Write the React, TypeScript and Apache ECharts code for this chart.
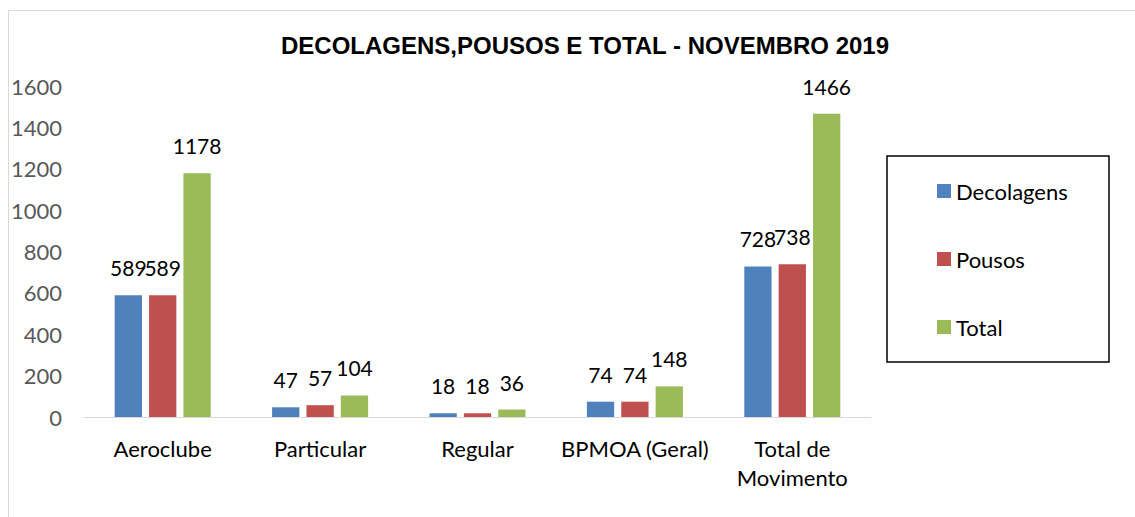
import React, { useEffect, useRef } from "react";
import * as echarts from "echarts";

const categories = ["Aeroclube", "Particular", "Regular", "BPMOA (Geral)", "Total de Movimento"];
const decolagens = [589, 47, 18, 74, 728];
const pousos = [589, 57, 18, 74, 738];
const total = [1178, 104, 36, 148, 1466];
const seriesNames = ["Decolagens", "Pousos", "Total"];
const colors = ["#4F81BD", "#C0504D", "#9BBB59"];
const titleText = "DECOLAGENS,POUSOS E TOTAL - NOVEMBRO 2019";

export default function App() {
  const ref = useRef<HTMLDivElement>(null);
  useEffect(() => {
    if (!ref.current) return;
    const chart = echarts.init(ref.current, undefined, { renderer: "svg" });
    const font = "Lato";
    const label = {
      show: true,
      position: "top",
      distance: 17,
      color: "#000",
      fontFamily: font,
      fontSize: 21,
    };
    const data = [decolagens, pousos, total];
    chart.setOption({
      animation: false,
      backgroundColor: "#fff",
      title: {
        text: titleText,
        left: 580,
        top: 28,
        textAlign: "center",
        textStyle: { fontFamily: "Liberation Sans", fontWeight: "bold", fontSize: 24, color: "#000" },
      },
      graphic: [
        {
          type: "rect",
          shape: { x: 8.5, y: 10.5, width: 1300, height: 700 },
          style: { fill: "none", stroke: "#d9d9d9", lineWidth: 1 },
          silent: true,
          z: -1,
        },
        {
          type: "rect",
          shape: { x: 887, y: 156, width: 222, height: 206 },
          style: { fill: "none", stroke: "#000", lineWidth: 1.5 },
          silent: true,
        },
      ],
      legend: {
        orient: "vertical",
        left: 932,
        top: 175,
        itemWidth: 14,
        itemHeight: 14,
        itemGap: 46,
        icon: "rect",
        textStyle: { fontFamily: font, fontSize: 22, color: "#000" },
        data: seriesNames,
      },
      grid: { left: 84, right: 264, top: 86, bottom: 100 },
      xAxis: {
        type: "category",
        data: categories,
        axisLine: { lineStyle: { color: "#d9d9d9", width: 1 } },
        axisTick: { show: false },
        axisLabel: {
          color: "#000",
          fontFamily: font,
          fontSize: 22,
          margin: 17,
          lineHeight: 29,
          interval: 0,
          formatter: (v: string) => v.replace(" de ", " de\n"),
        },
      },
      yAxis: {
        type: "value",
        min: 0,
        max: 1600,
        interval: 200,
        axisLine: { show: false },
        axisTick: { show: false },
        splitLine: { show: false },
        axisLabel: {
          color: "#595959",
          fontFamily: font,
          fontSize: 22,
          margin: 22,
          formatter: (v: number) => String(v),
        },
      },
      series: seriesNames.map((name, i) => ({
        name,
        type: "bar",
        data: data[i],
        itemStyle: { color: colors[i] },
        barGap: "26%",
        barCategoryGap: "39%",
        label,
      })),
    });
    return () => chart.dispose();
  }, []);
  return (
    <div
      ref={ref}
      style={{ position: "fixed", left: 0, top: 0, width: 1135, height: 517 }}
    />
  );
}
